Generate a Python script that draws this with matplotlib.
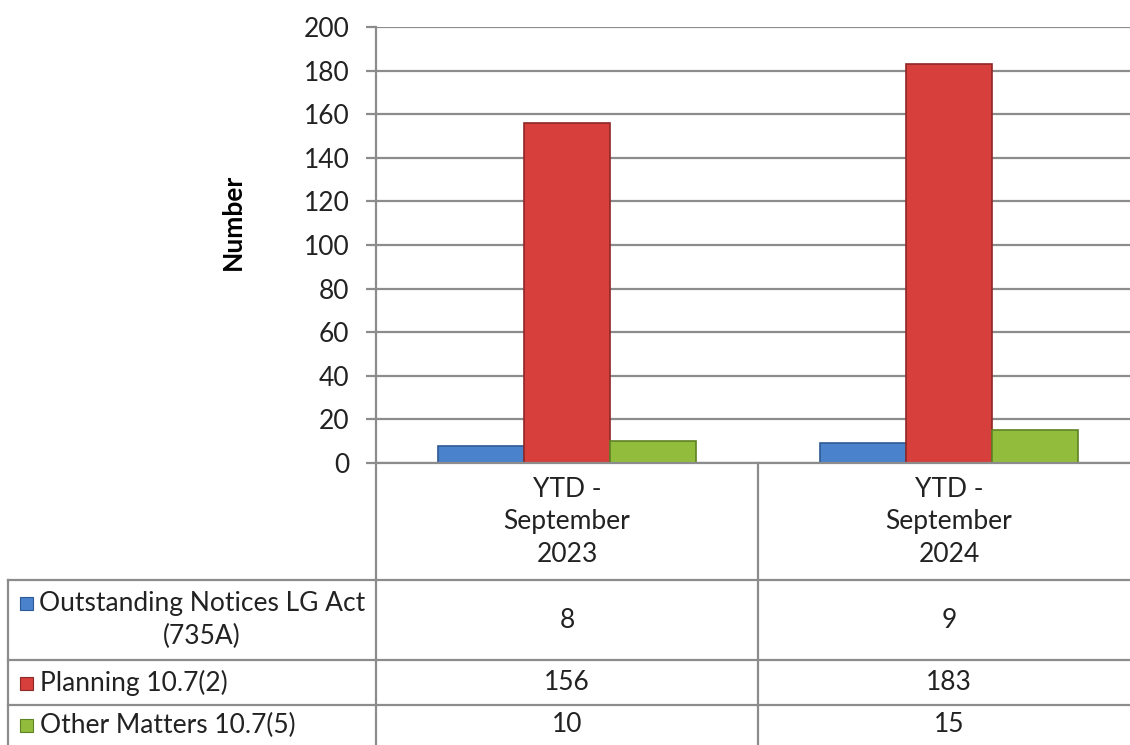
import matplotlib.pyplot as plt
from matplotlib.patches import Rectangle
from matplotlib.lines import Line2D

# data
categories = ["YTD -\nSeptember\n2023", "YTD -\nSeptember\n2024"]
series_names = ["Outstanding Notices LG Act\n(735A)", "Planning 10.7(2)", "Other Matters 10.7(5)"]
outstanding = [8, 9]
planning = [156, 183]
other = [10, 15]
series_values = [outstanding, planning, other]
colors = ["#4A82CC", "#D63F3C", "#92BD3C"]
edges = ["#2C5A94", "#8E2826", "#5F8224"]

W, H = 1130, 745
plt.rcParams['font.family'] = ['Lato', 'DejaVu Sans']
fig = plt.figure(figsize=(W / 100, H / 100), dpi=100)


def fx(x):
    return x / W


def fy(y):
    return 1 - y / H


grey = "#8C8C8C"
tc = "#222222"
fs = 19

# plot area (right edge runs past the image like the cropped original)
left, right, top, bottom = 376, 1140, 27, 463
ax = fig.add_axes([fx(left), fy(bottom), (right - left) / W, (bottom - top) / H])
ax.set_xlim(-0.5, 1.5)
ax.set_ylim(0, 200)
ax.set_yticks(range(0, 201, 20))
ax.set_xticks([])
ax.yaxis.grid(True, color=grey, linewidth=1.6)
ax.set_axisbelow(True)
for s in ["top", "right", "bottom"]:
    ax.spines[s].set_visible(False)
ax.spines["left"].set_color(grey)
ax.spines["left"].set_linewidth(1.6)
ax.tick_params(axis="y", length=7, width=1.6, color=grey, labelsize=fs, labelcolor=tc, pad=12)
fig.text(fx(233), fy(222), "Number", rotation=90, ha="center", va="center",
         fontsize=fs, fontweight="bold", color="black")

bw = 0.225
offsets = [-bw, 0, bw]
xs = range(len(categories))
for vals, off, c, e in zip(series_values, offsets, colors, edges):
    ax.bar([x + off for x in xs], vals, width=bw, color=c, edgecolor=e, linewidth=1.2, zorder=3)

# data table
lines = [
    # horizontal
    ((left, right), (bottom, bottom)),
    ((8, right), (580, 580)),
    ((8, right), (660, 660)),
    ((8, right), (705, 705)),
    # vertical
    ((left, left), (bottom, H)),
    ((758, 758), (bottom, H)),
    ((8, 8), (580, H)),
]
for (x0, x1), (y0, y1) in lines:
    fig.add_artist(Line2D([fx(x0), fx(x1)], [fy(y0), fy(y1)], color=grey, linewidth=1.6))

col_centers = [567, 949]
for cx, cat in zip(col_centers, categories):
    fig.text(fx(cx), fy(522), cat, ha="center", va="center", fontsize=fs, color=tc, linespacing=1.36)

row_centers = [620, 683, 725]
for rc, name, vals, c, e in zip(row_centers, series_names, series_values, colors, edges):
    nlines = name.count("\n") + 1
    my = rc - (nlines - 1) * 17
    fig.add_artist(Rectangle((fx(20), fy(my + 6.5)), 13 / W, 13 / H, facecolor=c, edgecolor=e, linewidth=0.8))
    if nlines > 1:
        fig.text(fx(202), fy(rc), name, ha="center", va="center", fontsize=fs, color=tc, linespacing=1.36)
    else:
        fig.text(fx(40), fy(rc), name, ha="left", va="center", fontsize=fs, color=tc)
    for cx, v in zip(col_centers, vals):
        fig.text(fx(cx), fy(rc), str(v), ha="center", va="center", fontsize=fs, color=tc)

fig.savefig("out.png", dpi=100)
